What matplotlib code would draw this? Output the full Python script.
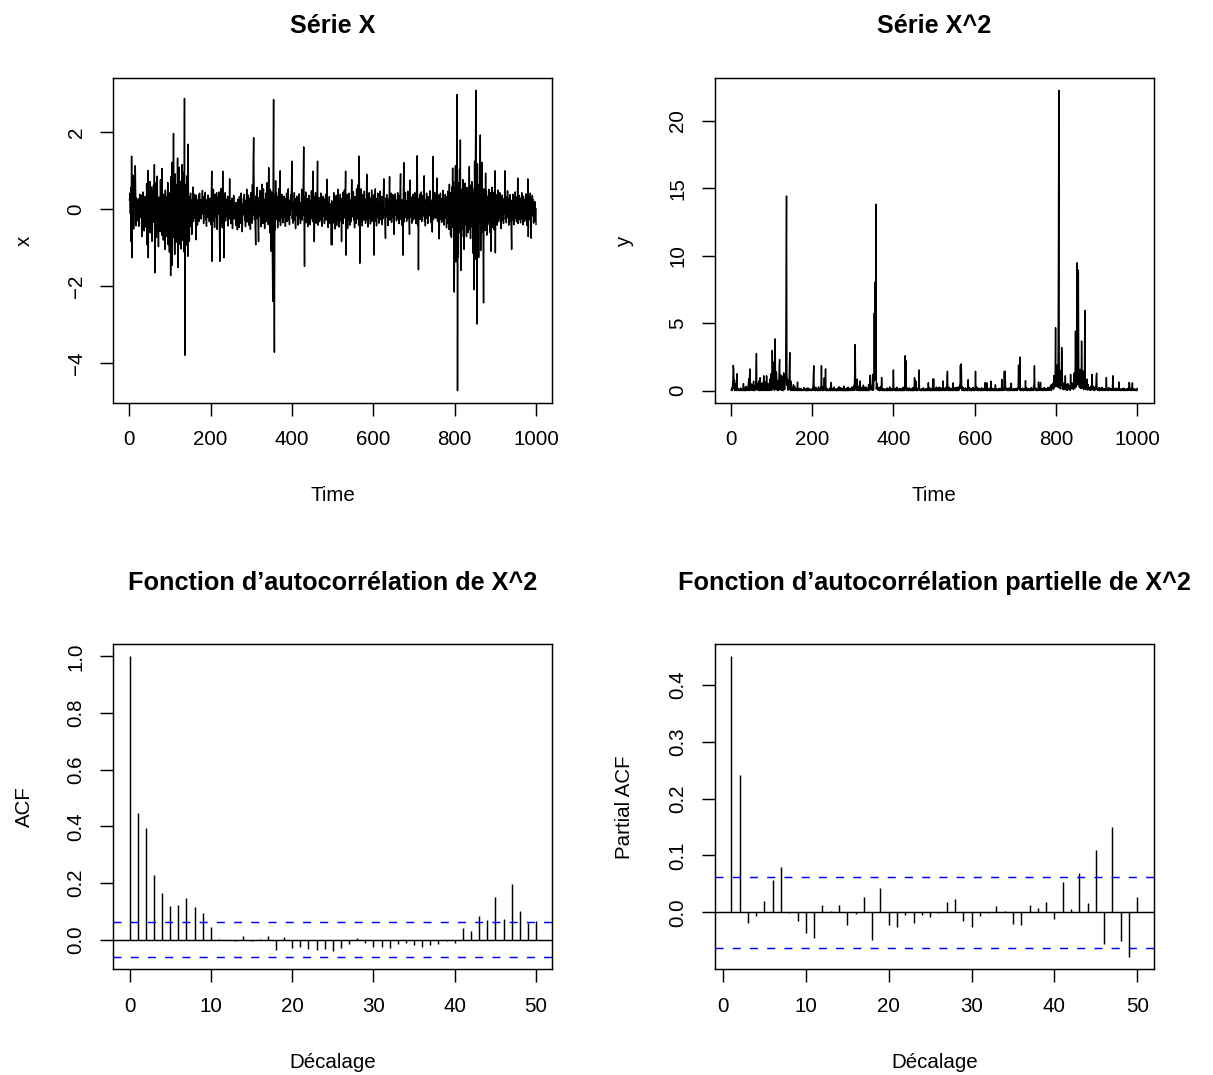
import numpy as np
import matplotlib
matplotlib.use("Agg")
import matplotlib.pyplot as plt

plt.rcParams['font.family'] = ['Liberation Sans', 'DejaVu Sans']
plt.rcParams['lines.scale_dashes'] = False
plt.rcParams['axes.unicode_minus'] = True

# ---------------- data ----------------
x_values = [
    0.23, 0.41, -0.12, 0.55, -0.85, 1.37, -1.27, 0.34, 0.88, 0.15, -0.52, -0.21, 0.73, 0.06, 1.12, 0.35, -0.44, 0.28, -0.09, 0.18,
    -0.31, 0.07, 0.26, -0.45, -0.12, 0.38, 0.14, -0.22, 0.03, 0.36, -0.72, -0.18, 0.11, 0.44, -0.05, 0.21, -0.57, 0.09, 0.32, -0.14,
    0.19, -0.48, 0.66, -0.93, 0.04, 1.0, -1.27, 0.52, -0.16, -0.35, 0.71, -0.62, 0.13, 0.27, 0.57, -0.84, -0.11, 0.46, 0.08, 0.62,
    -0.35, 1.15, -1.66, 0.23, -0.41, 0.68, -0.74, -0.12, 0.85, -0.26, 0.09, -0.98, 0.31, 0.17, -0.07, -0.59, 0.76, -0.22, 0.14, -0.68,
    1.05, -0.27, 0.12, -0.81, 0.38, -0.06, 0.24, -1.05, 0.49, 0.11, -0.43, -0.71, 0.31, 0.08, 0.68, -0.93, -0.17, 0.42, -1.12, 0.35,
    0.18, -1.73, 0.84, -0.42, 1.21, -1.46, 0.16, -0.48, 1.96, -0.75, 0.32, -1.18, 0.91, -0.23, 0.07, -0.86, 0.63, 0.21, 1.32, -1.52,
    0.25, -0.67, 1.08, -0.92, 0.18, -0.34, 0.72, -1.04, 0.06, 1.15, -0.81, 0.27, -0.43, 0.95, -1.12, 2.87, -3.8, 0.64, -0.95, 0.21,
    -0.52, 0.86, -0.28, -1.23, 1.68, -0.37, 0.13, -0.84, 0.32, 0.09, 0.41, -0.45, -0.12, -0.66, 0.24, 0.08, 0.57, -0.33, 0.15, -0.24,
    0.38, -0.19, 0.06, -0.8, 0.35, 0.11, -0.21, -0.42, 0.23, 0.04, 0.36, -0.32, 0.41, -0.07, 0.09, 0.24, -0.26, 0.15, -0.11, 0.48,
    -0.14, 0.32, -0.38, 0.07, 0.21, -0.09, 0.43, -0.27, 0.02, -0.45, 0.11, 0.25, -0.22, 0.36, -0.04, 0.14, -0.33, 0.28, 0.06, 0.17,
    -0.41, 0.24, 0.98, -1.36, 0.15, -0.32, 0.51, -0.06, 0.13, -0.48, 0.38, -0.21, 0.09, 0.05, 0.42, -0.53, 0.19, -0.04, 0.31, -0.13,
    0.44, -0.62, -1.36, 0.27, -0.08, 0.53, -0.35, 0.11, -0.49, 0.98, -0.24, 0.39, -1.27, 0.16, 0.03, 0.42, -0.31, 0.04, -0.18, 0.25,
    -0.06, 0.33, -0.44, 0.11, -0.27, 0.02, 0.78, -0.15, 0.21, -0.38, -0.04, -0.29, 0.28, -0.51, 0.13, -0.12, 0.35, -0.26, 0.07, -0.18,
    0.01, -0.43, 0.17, -0.32, -0.06, -0.54, 0.25, -0.11, -0.12, -0.48, 0.32, -0.23, 0.06, -0.37, 0.41, -0.02, 0.14, -0.59, -0.02, -0.15,
    0.27, -0.06, 0.38, -0.29, -0.07, -0.46, 0.22, 0.02, 0.51, -0.34, 0.09, -0.17, 0.36, -0.42, 0.15, 0.11, 0.28, -0.53, 0.42, -0.08,
    0.24, -0.37, 0.63, -0.16, 1.24, 1.85, 0.42, -0.28, 0.17, -0.51, -0.93, 0.34, -0.12, 0.56, -0.25, 0.08, -0.41, -0.85, 0.29, -0.04,
    0.48, -0.19, 0.32, -0.46, 0.01, 0.64, -0.27, 0.13, -0.38, 0.52, -0.06, 0.25, -0.51, 0.18, 0.06, 0.41, -0.33, 0.07, 0.68, -0.22,
    0.16, -0.41, 1.07, -0.28, 0.33, -0.62, 0.51, -0.16, -1.1, 0.44, 0.22, -0.95, -2.4, 0.88, 2.84, -1.45, -3.72, 0.36, -0.54, 0.73,
    -0.27, 0.42, -0.18, 0.31, -0.49, 0.07, 0.06, 0.53, -0.32, 0.21, 0.99, -0.43, 0.15, -0.07, 0.38, -0.24, -0.01, -0.36, 0.26, -0.11,
    0.33, -0.22, 0.08, -0.45, 0.27, 0.02, 0.41, -0.33, 0.14, -0.07, 0.52, -0.28, -0.04, -0.41, 0.23, -0.16, 0.37, -0.02, 0.48, 1.24,
    -0.26, 0.18, -0.37, 0.04, -0.13, 0.42, -0.29, -0.05, -0.51, 0.27, -0.06, 0.33, -0.18, 0.11, -0.42, 0.24, 0.03, 0.39, -0.25, 0.07,
    -0.38, 0.16, -0.04, 0.51, -0.29, -0.02, -0.17, 0.64, 1.61, -0.23, -1.49, 0.32, -0.11, 0.44, -0.36, 0.09, 0.08, 0.27, -0.46, 0.13,
    -0.18, 0.35, -0.07, 0.22, -0.41, -0.01, -0.25, 0.47, -0.12, 0.04, -0.33, 0.98, -0.21, 0.16, -0.85, 0.31, -0.03, 0.42, -0.37, 0.11,
    -0.24, 0.38, 1.24, -0.42, 0.15, -0.08, 0.29, -0.33, -0.03, -0.16, 0.41, -0.27, 0.06, -0.45, 0.22, 0.06, 0.33, -0.19, 0.02, -0.38,
    0.26, -0.11, 0.38, -0.29, -0.08, 0.77, -0.24, 0.16, -0.48, 0.07, -0.01, 0.32, -0.37, 0.13, -0.26, -0.02, -0.93, 0.21, -0.93, 0.04,
    0.17, -0.36, 0.42, -0.14, -0.01, -0.52, 0.28, -0.07, 0.35, -0.43, 0.11, -0.28, 0.51, -0.02, 0.23, -0.47, 0.06, -0.19, 0.38, -0.31,
    0.14, -0.85, 0.27, -0.12, 0.43, -0.38, 0.01, -0.24, 0.49, -0.17, 0.32, 0.98, -1.2, 0.25, -0.06, 0.38, -0.51, 0.13, -0.29, 0.41,
    -0.08, 0.24, -0.42, 0.17, -0.33, 0.06, 0.76, -0.21, 0.39, -0.14, 0.45, -0.28, 0.01, -0.49, 0.32, 0.05, 0.23, -0.37, 0.52, -0.09,
    0.35, -0.26, 0.63, -0.42, 1.37, 0.41, -1.41, 0.28, -0.15, 0.52, -0.33, 0.09, -0.44, 0.37, -0.01, 0.18, -0.29, 0.46, -0.13, 0.25,
    -0.37, 0.11, -0.06, 0.9, -0.28, 0.33, -0.47, 0.04, -0.18, 0.42, -0.25, -0.03, -0.39, 0.28, -0.11, 0.49, -0.32, 0.16, -0.04, 0.35,
    -0.23, -1.2, 0.38, -0.16, 0.52, -0.31, 0.08, -0.44, 0.27, 0.01, 0.41, -0.22, 0.14, -0.37, 0.05, -0.13, 0.46, -0.28, 0.19, -0.07,
    0.32, -0.41, 0.13, -0.25, 0.44, 0.78, -0.17, 0.01, -0.33, -0.76, 0.28, -0.09, 0.37, -0.21, 0.06, -0.43, 0.25, 0.02, 0.16, 0.84,
    -0.29, 0.18, -0.06, 0.41, -0.35, 0.09, -0.22, 0.37, -0.14, 0.28, -0.66, 0.02, -0.17, 0.39, -0.08, 0.23, -0.31, 0.15, 0.01, 0.42,
    -0.26, 0.11, -0.38, 0.34, -0.03, 0.49, 0.91, -0.27, 0.15, -0.42, 0.24, -0.11, -1.2, 0.36, 1.2, -0.34, 0.17, -0.22, 0.43, -0.08,
    0.21, -0.32, 0.07, -0.18, 0.46, -0.25, -0.02, -0.13, -0.66, 0.75, -0.21, 0.32, -0.09, 0.26, -0.37, 0.14, -0.01, 0.38, -0.28, 0.19,
    -0.15, 0.42, -0.24, 0.07, -0.38, 0.29, 0.63, 1.38, -0.42, 0.27, -1.58, 0.16, -0.05, 0.38, -0.27, 0.11, -0.19, 0.44, -0.33, 0.02,
    -0.21, 0.35, -0.16, 0.28, 0.86, -0.32, 0.09, -0.44, 0.23, -0.07, 0.41, -0.25, 0.13, -0.38, 0.32, 0.01, 0.26, -0.18, 0.47, -0.11,
    0.24, -0.36, 0.18, -0.09, -0.6, 0.52, 1.36, -0.28, 0.15, -0.21, 0.43, -0.07, 0.31, -0.24, 0.08, -0.16, 0.8, -0.32, 0.21, -0.13,
    0.36, -0.78, 0.12, -0.27, 0.41, -0.18, 0.04, -0.35, 0.27, -0.11, 0.48, -0.29, 0.16, -0.42, 0.23, -0.06, 0.38, -0.24, 0.17, -0.49,
    0.32, -0.15, 0.46, -0.38, 0.21, -0.53, 0.64, -0.26, 0.09, -0.67, 0.42, -0.74, 0.57, -0.32, 1.06, -0.48, 0.71, -1.05, -2.16, 0.54,
    -0.76, 1.12, -1.38, 0.63, -0.51, 2.97, -4.72, 0.45, -1.24, 0.68, -0.37, 1.03, -0.62, 1.79, -1.6, 0.34, -0.73, 0.51, -0.28, 0.76,
    -0.54, 0.32, -1.05, 0.48, -0.23, 0.67, -0.41, 0.15, -0.72, 0.56, -0.34, 0.43, -0.61, 0.27, -0.16, 1.1, -0.52, 0.38, -0.77, 0.62,
    -0.46, 0.71, -0.28, 0.54, -1.15, 0.42, -0.65, -2.1, 1.24, -0.53, 0.75, 3.08, -1.32, 0.66, -2.99, 1.17, -0.74, 0.48, -1.26, 0.63,
    -0.38, 0.57, 1.92, -1.08, 0.44, -0.62, 1.21, -0.27, 0.39, -0.73, -2.44, 0.52, -0.35, 0.28, -0.56, 0.93, -0.21, 0.47, -0.68, 0.33,
    -0.42, 0.25, -0.17, 0.51, -0.36, 0.18, -0.61, 0.42, -1.1, 0.34, -0.23, 0.56, -0.48, 0.21, -0.09, 0.43, -0.54, 0.27, 0.99, -1.14,
    0.38, -0.26, 0.13, -0.42, 0.31, -0.08, 0.49, -0.33, 0.17, -0.24, 0.42, -0.15, 0.28, -0.51, 0.07, -0.19, 0.36, -0.29, 0.14, -0.38,
    0.26, -0.12, 0.41, 0.99, -0.27, 0.18, -0.36, 0.32, -0.09, 0.47, -0.23, 0.15, -0.42, 0.28, -0.16, 0.37, -0.31, 0.06, -0.48, -1.05,
    0.23, -0.17, 0.38, -0.29, 0.12, -0.41, 0.27, -0.08, 0.44, -0.25, 0.16, -0.33, 0.31, -0.14, 0.8, -0.38, 0.22, -0.06, 0.35, -0.27,
    0.13, -0.36, 0.28, -0.18, 0.42, -0.24, 0.07, -0.41, 0.33, -0.12, 0.25, -0.32, 0.18, -0.07, 0.39, -0.26, 0.14, -0.43, 0.21, 0.78,
    -0.72, 0.16, -0.28, 0.32, -0.13, 0.41, -0.22, -0.76, 0.27, -0.09, 0.35, -0.18, 0.24, -0.37, 0.11, -0.26, 0.19, -0.32, 0.02, -0.4,
]

acf_values = [
    1.0, 0.448, 0.394, 0.229, 0.165, 0.12, 0.124, 0.148, 0.116, 0.095,
    0.045, 0.001, 0.0, -0.006, 0.014, -0.005, 0.003, 0.013, -0.035, 0.009,
    -0.028, -0.026, -0.032, -0.036, -0.034, -0.039, -0.028, -0.016, 0.005, -0.011,
    -0.025, -0.025, -0.031, -0.015, -0.013, -0.019, -0.025, -0.02, -0.016, -0.005,
    -0.012, 0.041, 0.029, 0.085, 0.07, 0.152, 0.072, 0.197, 0.1, 0.06,
    0.066,
]

pacf_values = [
    0.450, 0.241, -0.019, -0.006, 0.020, 0.057, 0.080, -0.002, -0.015, -0.037,
    -0.046, 0.012, 0.003, 0.013, -0.023, -0.003, 0.027, -0.049, 0.042, -0.023,
    -0.025, -0.005, -0.018, -0.005, -0.008, -0.002, 0.018, 0.023, -0.016, -0.025,
    -0.007, -0.001, 0.011, 0.002, -0.020, -0.022, 0.013, 0.008, 0.018, -0.012,
    0.054, 0.006, 0.070, 0.016, 0.110, -0.056, 0.150, -0.051, -0.079, 0.027,
]

n_obs = len(x_values)
conf_limit = 1.96 / np.sqrt(n_obs)

titles = ["Série X", "Série X^2",
          "Fonction d\u2019autocorrélation de X^2",
          "Fonction d\u2019autocorrélation partielle de X^2"]
xlabels = ["Time", "Time", "Décalage", "Décalage"]
ylabels = ["x", "y", "ACF", "Partial ACF"]

# ---------------- figure ----------------
W, H = 1213, 1075
DPI = 100
fig = plt.figure(figsize=(W / DPI, H / DPI), dpi=DPI)

FS = 14.8
TFS = 18.2
LW = 1.05

def px_rect(l, t, r, b):
    return [l / W, 1 - b / H, (r - l) / W, (b - t) / H]

rects = [px_rect(113.3, 78.3, 552.3, 402.7),
         px_rect(715.0, 78.3, 1153.5, 402.7),
         px_rect(113.3, 644.3, 552.3, 969.3),
         px_rect(715.0, 644.3, 1153.5, 969.3)]

axes = [fig.add_axes(r) for r in rects]

def r_pad(lo, hi):
    d = (hi - lo) * 0.04
    return lo - d, hi + d

def style(ax):
    for s in ax.spines.values():
        s.set_linewidth(LW)
        s.set_color('black')
    ax.tick_params(direction='out', length=9.4, width=LW, labelsize=FS, pad=10.5,
                   colors='black')
    for lab in ax.get_yticklabels():
        lab.set_rotation(90)
        lab.set_verticalalignment('center')

x = np.asarray(x_values)
y = x ** 2
t = np.arange(1, n_obs + 1)

# Série X
ax = axes[0]
ax.plot(t, x, color='black', lw=LW)
ax.set_xlim(*r_pad(1, n_obs))
ax.set_ylim(*r_pad(x.min(), x.max()))
ax.set_xticks([0, 200, 400, 600, 800, 1000])
ax.set_yticks([-4, -2, 0, 2])
style(ax)

# Série X^2
ax = axes[1]
ax.plot(t, y, color='black', lw=LW)
ax.set_xlim(*r_pad(1, n_obs))
ax.set_ylim(*r_pad(y.min(), y.max()))
ax.set_xticks([0, 200, 400, 600, 800, 1000])
ax.set_yticks([0, 5, 10, 15, 20])
style(ax)

# ACF
ax = axes[2]
lags = np.arange(len(acf_values))
ax.vlines(lags, 0, acf_values, color='black', lw=LW)
ax.axhline(0, color='black', lw=LW)
for c in (conf_limit, -conf_limit):
    ax.axhline(c, color='#0000FF', lw=LW, linestyle=(0, (5.8, 6.6)))
ax.set_xlim(*r_pad(0, len(acf_values) - 1))
ax.set_ylim(*r_pad(min(min(acf_values), -conf_limit), max(acf_values)))
ax.set_xticks([0, 10, 20, 30, 40, 50])
ax.set_yticks([0.0, 0.2, 0.4, 0.6, 0.8, 1.0])
ax.set_yticklabels(["0.0", "0.2", "0.4", "0.6", "0.8", "1.0"])
style(ax)

# PACF
ax = axes[3]
plags = np.arange(1, len(pacf_values) + 1)
ax.vlines(plags, 0, pacf_values, color='black', lw=LW)
ax.axhline(0, color='black', lw=LW)
for c in (conf_limit, -conf_limit):
    ax.axhline(c, color='#0000FF', lw=LW, linestyle=(0, (5.8, 6.6)))
ax.set_xlim(*r_pad(1, len(pacf_values)))
ax.set_ylim(*r_pad(min(min(pacf_values), -conf_limit), max(max(pacf_values), conf_limit)))
ax.set_xticks([0, 10, 20, 30, 40, 50])
ax.set_yticks([0.0, 0.1, 0.2, 0.3, 0.4])
ax.set_yticklabels(["0.0", "0.1", "0.2", "0.3", "0.4"])
style(ax)

# titles and axis labels in R positions
title_y = [26, 26, 583, 583]
xlabel_y = [495, 495, 1062, 1062]
ylabel_x = [24, 624, 24, 624]
for i, ax in enumerate(axes):
    l, b, w, h = rects[i]
    cx = l + w / 2
    cy = b + h / 2
    fig.text(cx, 1 - title_y[i] / H, titles[i], ha='center', va='center',
             fontsize=TFS, fontweight='bold')
    fig.text(cx, 1 - xlabel_y[i] / H, xlabels[i], ha='center', va='center',
             fontsize=FS)
    fig.text(ylabel_x[i] / W, cy, ylabels[i], ha='center', va='center',
             fontsize=FS, rotation=90)

fig.savefig("out.png", dpi=DPI)
